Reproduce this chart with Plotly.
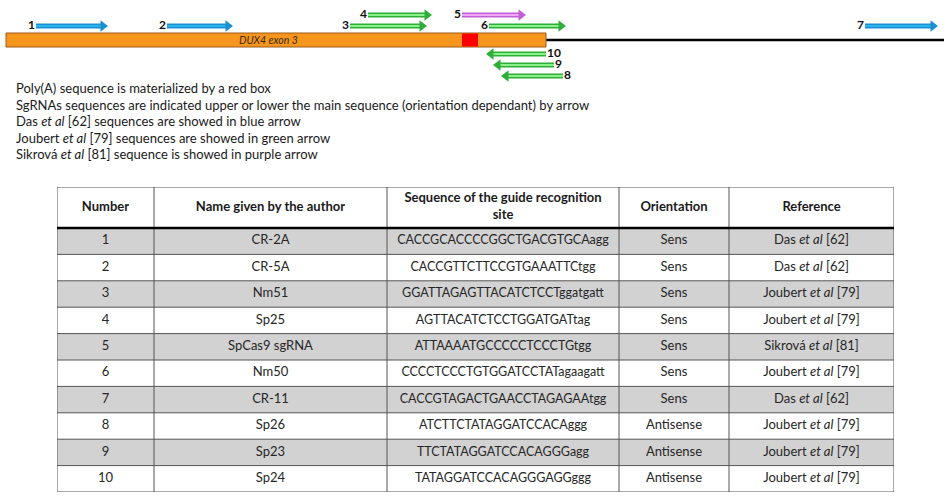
import plotly.graph_objects as go

W, H = 948, 496
FONT = "Lato"

# locus drawing (x in diagram units, left to right)
exon_start, exon_end = 6, 546
polya_start, polya_end = 462, 478
locus_end = 944

guide_ids = [1, 2, 3, 4, 5, 6, 7, 8, 9, 10]
guide_tail = [36, 167, 350, 368, 462, 489, 865, 563, 554, 546]
guide_head = [107, 232, 426, 431, 525, 565, 937, 502, 494, 487]
guide_lane = [1, 1, 1, 2, 2, 1, 1, -3, -2, -1]
guide_source = ["Das", "Das", "Joubert", "Joubert", "Sikrova", "Joubert", "Das", "Joubert", "Joubert", "Joubert"]

notes = [
    "Poly(A) sequence is materialized by a red box",
    "SgRNAs sequences are indicated upper or lower the main sequence (orientation dependant) by arrow",
    "Das <i>et al</i> [62] sequences are showed in blue arrow",
    "Joubert <i>et al</i> [79] sequences are showed in green arrow",
    "Sikrová <i>et al</i> [81] sequence is showed in purple arrow",
]

col_headers = ["Number", "Name given by the author", "Sequence of the guide recognition<br>site", "Orientation", "Reference"]
col_widths = [97, 233, 232, 110, 165]
names = ["CR-2A", "CR-5A", "Nm51", "Sp25", "SpCas9 sgRNA", "Nm50", "CR-11", "Sp26", "Sp23", "Sp24"]
sequences = [
    "CACCGCACCCCGGCTGACGTGCAagg",
    "CACCGTTCTTCCGTGAAATTCtgg",
    "GGATTAGAGTTACATCTCCTggatgatt",
    "AGTTACATCTCCTGGATGATtag",
    "ATTAAAATGCCCCCTCCCTGtgg",
    "CCCCTCCCTGTGGATCCTATagaagatt",
    "CACCGTAGACTGAACCTAGAGAAtgg",
    "ATCTTCTATAGGATCCACAggg",
    "TTCTATAGGATCCACAGGGagg",
    "TATAGGATCCACAGGGAGGggg",
]
orientations = ["Sens"] * 7 + ["Antisense"] * 3
references = [
    "Das <i>et al</i> [62]", "Das <i>et al</i> [62]", "Joubert <i>et al</i> [79]",
    "Joubert <i>et al</i> [79]", "Sikrová <i>et al</i> [81]", "Joubert <i>et al</i> [79]",
    "Das <i>et al</i> [62]", "Joubert <i>et al</i> [79]", "Joubert <i>et al</i> [79]",
    "Joubert <i>et al</i> [79]",
]

arrow_colors = {
    "Das": ("#1b8fd0", "#2ab3ec"),
    "Joubert": ("#2fae3a", "#8af08a"),
    "Sikrova": ("#c25fd6", "#f2a6fa"),
}


def lane_y(lane):
    # pixel offset of a lane from the locus centre line
    sign = 1 if lane > 0 else -1
    return lane * 11 + sign * 3


fig = go.Figure()

# sgRNA arrows
for gid, tail, head, lane, src in zip(guide_ids, guide_tail, guide_head, guide_lane, guide_source):
    edge, fill = arrow_colors[src]
    y = lane_y(lane)
    d = 1 if head > tail else -1
    for col, w in [(edge, 5), (fill, 2)]:
        fig.add_trace(go.Scatter(
            x=[tail, head - d * 4], y=[y, y], mode="lines",
            line=dict(color=col, width=w), hoverinfo="skip", showlegend=False,
        ))
    fig.add_trace(go.Scatter(
        x=[head - d * 4], y=[y], mode="markers",
        marker=dict(symbol="triangle-right" if d > 0 else "triangle-left", size=10,
                    color=edge, line=dict(width=0)),
        hoverinfo="skip", showlegend=False,
    ))
    fig.add_trace(go.Scatter(
        x=[tail - d * 1], y=[y], mode="text", text=[f"<b>{gid}</b>"],
        textposition="middle left" if d > 0 else "middle right",
        textfont=dict(family=FONT, size=12, color="#111111"),
        hoverinfo="skip", showlegend=False,
    ))

# locus: exon box, polyA box, downstream line
fig.add_shape(type="line", xref="x", yref="y", x0=exon_end, x1=locus_end, y0=0, y1=0,
              line=dict(color="black", width=2.5), layer="below")
fig.add_shape(type="rect", xref="x", yref="y", x0=exon_start, x1=exon_end, y0=-7, y1=7,
              fillcolor="#f7961f", line=dict(color="#9a5a17", width=1))
fig.add_shape(type="rect", xref="x", yref="y", x0=polya_start, x1=polya_end, y0=-6.5, y1=6.5,
              fillcolor="#ff0000", line=dict(width=0))
fig.add_annotation(x=(exon_start + exon_end) / 2 - 8, y=0, xref="x", yref="y",
                   text="<i>DUX4 exon 3</i>", showarrow=False,
                   font=dict(family=FONT, size=10.5, color="#3a2a10"))

# notes under the drawing
for i, line in enumerate(notes):
    fig.add_annotation(x=14 / W, y=1 - (88 + i * 16.6) / H, xref="paper", yref="paper",
                       xanchor="left", yanchor="middle", text=line, showarrow=False,
                       font=dict(family=FONT, size=13, color="#1a1a1a"))

# guide table on its own axes: x in column width units, y in row units (header above 0)
n_rows = len(guide_ids)
header_h = 41 / 26.4
edges = [0]
for w in col_widths:
    edges.append(edges[-1] + w)
centers = [(a + b) / 2 for a, b in zip(edges[:-1], edges[1:])]
row_mid = [i + 0.5 for i in range(n_rows)]

for i in range(0, n_rows, 2):
    fig.add_shape(type="rect", xref="x2", yref="y2", x0=0, x1=edges[-1], y0=i, y1=i + 1,
                  fillcolor="#d2d2d2", line=dict(width=0), layer="below")

grid = dict(color="#555555", width=1)
for r in range(1, n_rows + 1):
    fig.add_shape(type="line", xref="x2", yref="y2", x0=0, x1=edges[-1], y0=r, y1=r, line=grid)
fig.add_shape(type="line", xref="x2", yref="y2", x0=0, x1=edges[-1], y0=-header_h, y1=-header_h, line=grid)
for e in edges:
    fig.add_shape(type="line", xref="x2", yref="y2", x0=e, x1=e, y0=-header_h, y1=n_rows, line=grid)
fig.add_shape(type="line", xref="x2", yref="y2", x0=0, x1=edges[-1], y0=0, y1=0,
              line=dict(color="black", width=2.5))

fig.add_trace(go.Scatter(
    x=centers, y=[-header_h / 2] * len(centers), mode="text",
    text=[f"<b>{h}</b>" for h in col_headers], textposition="middle center",
    textfont=dict(family=FONT, size=13, color="#1a1a1a"),
    xaxis="x2", yaxis="y2", hoverinfo="skip", showlegend=False,
))
columns = [guide_ids, names, sequences, orientations, references]
sizes = [13, 13, 12.5, 13, 13]
for cx, vals, fs in zip(centers, columns, sizes):
    fig.add_trace(go.Scatter(
        x=[cx] * n_rows, y=row_mid, mode="text", text=[str(v) for v in vals],
        textposition="middle center",
        textfont=dict(family=FONT, size=fs, color="#262626"),
        xaxis="x2", yaxis="y2", hoverinfo="skip", showlegend=False,
    ))

fig.update_layout(
    width=W, height=H,
    margin=dict(l=0, r=0, t=0, b=0),
    paper_bgcolor="white", plot_bgcolor="white",
    xaxis=dict(range=[0, W], domain=[0, 1], visible=False, fixedrange=True),
    yaxis=dict(range=[-50, 40], domain=[1 - 90 / H, 1], visible=False, fixedrange=True),
    xaxis2=dict(range=[0, edges[-1]], domain=[57 / W, 894 / W], visible=False, fixedrange=True),
    yaxis2=dict(range=[n_rows, -header_h], domain=[1 - 492 / H, 1 - 187 / H],
                visible=False, fixedrange=True),
    font=dict(family=FONT),
)

fig.write_html("out.html", config={"displayModeBar": False},
               post_script="document.body.style.margin='0';")
